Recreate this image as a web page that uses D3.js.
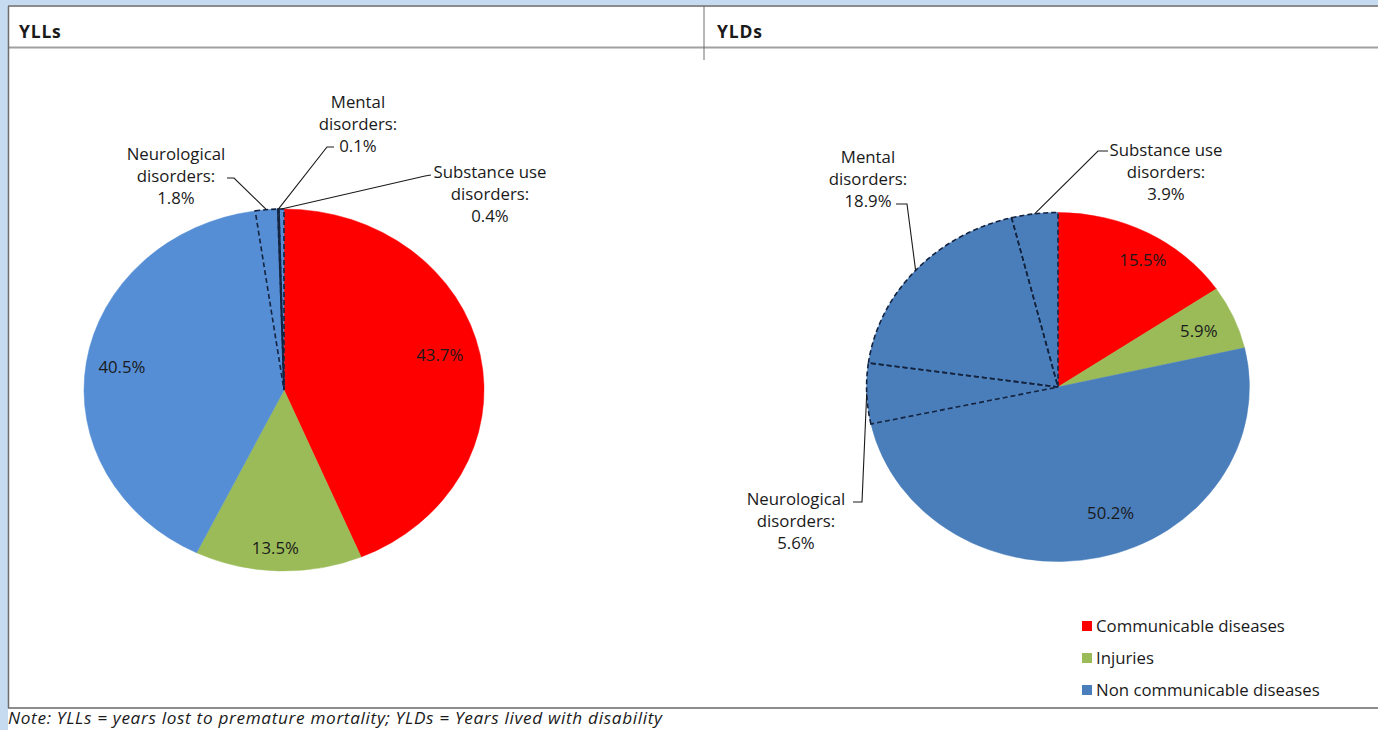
<!DOCTYPE html>
<html>
<head>
<meta charset="utf-8">
<script src="https://cdn.jsdelivr.net/npm/d3@7"></script>
<style>
  html, body { margin: 0; padding: 0; background: #ffffff; }
  svg { display: block; }
  text { font-family: "Open Sans", "Noto Sans", sans-serif; fill: #1a1a1a; }
</style>
</head>
<body>
<svg id="chart" width="1378" height="730"></svg>
<script>
// Burden categories and their sub-groups (sub-groups belong to non communicable diseases)
const categories = ["Communicable diseases", "Injuries", "Non communicable diseases"];
const sliceNames = ["Communicable diseases", "Injuries", "Non communicable diseases",
                    "Neurological disorders", "Mental disorders", "Substance use disorders"];
const sliceCategory = [0, 1, 2, 2, 2, 2];
const sliceIsSubgroup = [false, false, false, true, true, true];
const calloutLines = {
  "Neurological disorders": ["Neurological", "disorders:"],
  "Mental disorders": ["Mental", "disorders:"],
  "Substance use disorders": ["Substance use", "disorders:"]
};

// Share (%) of YLLs and YLDs
const yllValues = [43.7, 13.5, 40.5, 1.8, 0.1, 0.4];
const yldValues = [15.5, 5.9, 50.2, 5.6, 18.9, 3.9];

const panelTitles = ["YLLs", "YLDs"];
const noteText = "Note: YLLs = years lost to premature mortality; YLDs = Years lived with disability";

const svg = d3.select("#chart");
const W = 1378, H = 730;
const FS = 16.8;

// page frame
svg.append("rect").attr("width", W).attr("height", H).attr("fill", "#c6daf0");
svg.append("rect").attr("x", 8).attr("y", 6).attr("width", W - 8).attr("height", H - 6).attr("fill", "#ffffff");
svg.append("rect").attr("x", 0).attr("y", 0).attr("width", 8).attr("height", H).attr("fill", "#c6daf0");
const frame = svg.append("g").attr("fill", "none");
frame.append("line").attr("x1", 8).attr("x2", W).attr("y1", 6).attr("y2", 6).attr("stroke", "#8c8c8c").attr("stroke-width", 2);
frame.append("line").attr("x1", 8).attr("x2", W).attr("y1", 47.5).attr("y2", 47.5).attr("stroke", "#a0a0a0").attr("stroke-width", 2);
frame.append("line").attr("x1", 8).attr("x2", W).attr("y1", 708).attr("y2", 708).attr("stroke", "#8c8c8c").attr("stroke-width", 2);
frame.append("line").attr("x1", 8.5).attr("x2", 8.5).attr("y1", 6).attr("y2", 708).attr("stroke", "#6e6e6e").attr("stroke-width", 1.5);
frame.append("line").attr("x1", 704).attr("x2", 704).attr("y1", 6).attr("y2", 60).attr("stroke", "#6e6e6e").attr("stroke-width", 1);

// panel headers
svg.selectAll("text.title").data(panelTitles).join("text")
  .attr("class", "title")
  .attr("x", (d, i) => i === 0 ? 19 : 717)
  .attr("y", 38)
  .attr("font-size", 17.5).attr("font-weight", 700)
  .attr("letter-spacing", 0.8)
  .text(d => d);

// note
svg.append("text").attr("x", 8).attr("y", 724)
  .attr("font-size", 17.2).attr("font-style", "italic")
  .attr("textLength", 654).attr("lengthAdjust", "spacing")
  .text(noteText);

const red = "#ff0000", green = "#9bbb59";

function drawPie(cfg) {
  const data = cfg.values.map((v, i) => ({ name: sliceNames[i], value: v, cat: sliceCategory[i], sub: sliceIsSubgroup[i] }));
  const pie = d3.pie().sort(null).value(d => d.value).startAngle(0).endAngle(2 * Math.PI);
  const arcs = pie(data);
  const r = cfg.r, sx = cfg.sx;
  const arc = d3.arc().innerRadius(0).outerRadius(r);
  const color = d3.scaleOrdinal().domain(d3.range(categories.length)).range([red, green, cfg.blue]);

  const g = svg.append("g").attr("transform", `translate(${cfg.cx},${cfg.cy})`);
  const pg = g.append("g").attr("transform", `scale(${sx},1)`);
  pg.selectAll("path.slice").data(arcs).join("path")
    .attr("class", "slice")
    .attr("d", arc)
    .attr("fill", d => color(d.data.cat))
    .attr("stroke", d => color(d.data.cat))
    .attr("stroke-width", 0.5)
    .attr("vector-effect", "non-scaling-stroke");
  // dashed outlines around the sub-groups
  pg.selectAll("path.subgroup").data(arcs.filter(d => d.data.sub)).join("path")
    .attr("class", "subgroup")
    .attr("d", arc)
    .attr("fill", "none")
    .attr("stroke", "#14233f")
    .attr("stroke-width", 1.6)
    .attr("stroke-dasharray", "5,3")
    .attr("vector-effect", "non-scaling-stroke");

  // value labels inside the main slices
  const labArc = d3.arc().innerRadius(r * cfg.labelR).outerRadius(r * cfg.labelR);
  g.selectAll("text.val").data(arcs.filter(d => !d.data.sub)).join("text")
    .attr("class", "val")
    .attr("x", d => labArc.centroid(d)[0] * sx + (cfg.labelDx[d.index] || 0))
    .attr("y", d => labArc.centroid(d)[1] + 6 + (cfg.labelDy[d.index] || 0))
    .attr("text-anchor", "middle")
    .attr("font-size", FS)
    .text(d => d.value.toFixed(1) + "%");

  // callouts for the sub-groups
  arcs.filter(d => d.data.sub).forEach(d => {
    const c = cfg.callouts[d.data.name];
    const mid = (d.startAngle + d.endAngle) / 2;
    const px = cfg.cx + Math.sin(mid) * r * sx;
    const py = cfg.cy - Math.cos(mid) * r;
    svg.append("path")
      .attr("d", d3.line()([c.start, c.elbow, [px, py]]))
      .attr("fill", "none").attr("stroke", "#1a1a1a").attr("stroke-width", 1.1);
    const lines = calloutLines[d.data.name].concat([d.value.toFixed(1) + "%"]);
    svg.selectAll(null).data(lines).join("text")
      .attr("x", c.x).attr("y", (t, i) => c.y + i * 22)
      .attr("text-anchor", "middle")
      .attr("font-size", FS)
      .text(t => t);
  });
}

drawPie({
  values: yllValues, cx: 284, cy: 390, r: 181, sx: 1.105, blue: "#558ed5",
  labelR: 0.82, labelDx: { 0: -5, 1: -4 }, labelDy: { 0: -6, 1: 10 },
  callouts: {
    "Neurological disorders": { x: 176, y: 160, start: [227, 178], elbow: [234, 178] },
    "Mental disorders": { x: 358, y: 108, start: [334, 147], elbow: [327, 147] },
    "Substance use disorders": { x: 490, y: 178, start: [431, 175], elbow: [425, 176] }
  }
});

drawPie({
  values: yldValues, cx: 1058, cy: 387, r: 174.5, sx: 1.097, blue: "#4a7ebb",
  labelR: 0.78, labelDx: { 0: 15, 1: 4, 2: 20 }, labelDy: { 0: -7, 1: -2, 2: -7 },
  callouts: {
    "Neurological disorders": { x: 796, y: 505, start: [853, 502], elbow: [862, 502] },
    "Mental disorders": { x: 868, y: 163, start: [896, 204], elbow: [907, 204] },
    "Substance use disorders": { x: 1166, y: 156, start: [1108, 151], elbow: [1098, 151] }
  }
});

// legend
const legend = svg.append("g").attr("transform", "translate(1082,626)");
const legendColor = [red, green, "#4a7ebb"];
const items = legend.selectAll("g").data(categories).join("g")
  .attr("transform", (d, i) => `translate(0,${i * 32})`);
items.append("rect").attr("x", 0).attr("y", -5).attr("width", 10).attr("height", 10)
  .attr("fill", (d, i) => legendColor[i]);
items.append("text").attr("x", 14).attr("y", 6).attr("font-size", FS).text(d => d);
</script>
</body>
</html>
